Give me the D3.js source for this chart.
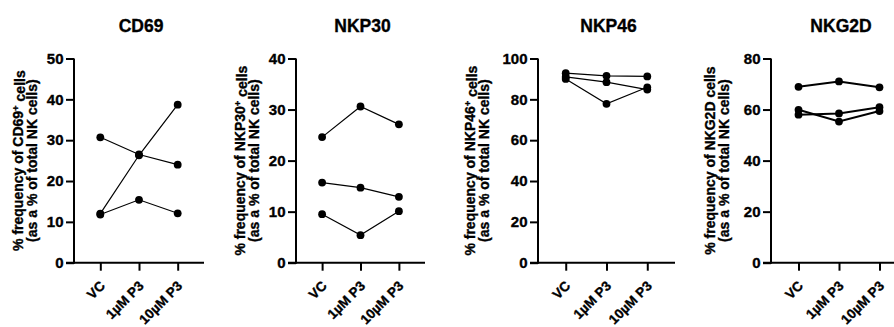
<!DOCTYPE html>
<html>
<head>
<meta charset="utf-8">
<script src="https://cdn.jsdelivr.net/npm/d3@7"></script>
<style>
  html, body { margin: 0; padding: 0; background: #fff; }
  svg { display: block; }
  text { font-family: "Liberation Sans", Arial, sans-serif; font-weight: bold; fill: #000;
         stroke: #000; stroke-width: 0.35px; }
</style>
</head>
<body>
<svg id="chart" width="894" height="327"></svg>
<script>
// Treatment groups on the x axis
const categories = ["VC", "1µM P3", "10µM P3"];

// Each inner array is one donor followed across the three treatments
const cd69 = [[30.7, 26.5, 24.0], [12.0, 26.3, 38.7], [11.8, 15.4, 12.1]];
const nkp30 = [[24.6, 30.6, 27.1], [15.7, 14.7, 12.9], [9.5, 5.4, 10.1]];
const nkp46 = [[92.8, 91.5, 91.2], [91.0, 88.4, 84.8], [90.0, 77.8, 85.9]];
const nkg2d = [[68.9, 71.0, 68.7], [59.9, 55.3, 59.4], [58.0, 58.5, 60.9]];

// Y tick values per panel
const cd69Ticks = [0, 10, 20, 30, 40, 50];
const nkp30Ticks = [0, 10, 20, 30, 40];
const nkp46Ticks = [0, 20, 40, 60, 80, 100];
const nkg2dTicks = [0, 20, 40, 60, 80];

const panels = [
  { title: "CD69", marker: "CD69", sup: "+", data: cd69, ticks: cd69Ticks,
    left: 74, width: 130, axisEnd: 130, labelX: -56, lineW: 1.2 },
  { title: "NKP30", marker: "NKP30", sup: "+", data: nkp30, ticks: nkp30Ticks,
    left: 296, width: 129, axisEnd: 129, labelX: -56, lineW: 1.2 },
  { title: "NKP46", marker: "NKP46", sup: "+", data: nkp46, ticks: nkp46Ticks,
    left: 538, width: 137, axisEnd: 137, labelX: -68, lineW: 1.2 },
  { title: "NKG2D", marker: "NKG2D", sup: "", data: nkg2d, ticks: nkg2dTicks,
    left: 771, width: 136, axisEnd: 130, labelX: -61, lineW: 2 }
];

const yTop = 58.5, yBottom = 262.7;
const svg = d3.select("#chart");

panels.forEach(p => {
  const g = svg.append("g").attr("transform", `translate(${p.left},0)`);

  const x = d3.scalePoint().domain(categories).range([0, p.width]).padding(0.68);
  const y = d3.scaleLinear().domain([0, d3.max(p.ticks)]).range([yBottom, yTop]);

  // y axis
  const ya = g.append("g")
    .call(d3.axisLeft(y).tickValues(p.ticks).tickSize(8).tickPadding(2.5).tickFormat(d3.format("d")));
  ya.selectAll("path, line").attr("stroke", "#000").attr("stroke-width", 2);
  ya.select(".domain").attr("d", `M0,${yTop}V${yBottom + 1}`);
  ya.selectAll("text").attr("font-size", 15).attr("font-family", null);

  // x axis
  const xa = g.append("g").attr("transform", `translate(0,${yBottom})`)
    .call(d3.axisBottom(x).tickSize(8));
  xa.selectAll("path, line").attr("stroke", "#000").attr("stroke-width", 2);
  xa.select(".domain").attr("d", `M-8,0H${p.axisEnd}`);
  xa.selectAll("text")
    .attr("font-size", 13.5).attr("font-family", null)
    .attr("text-anchor", "end")
    .attr("x", 0).attr("y", 0).attr("dy", null)
    .attr("transform", "translate(5,24) rotate(-45)");

  // paired lines
  const line = d3.line().x((d, i) => x(categories[i])).y(d => y(d));
  g.selectAll(".pair").data(p.data).join("path")
    .attr("class", "pair")
    .attr("d", line)
    .attr("fill", "none")
    .attr("stroke", "#000")
    .attr("stroke-width", p.lineW);

  // points
  p.data.forEach(series => {
    g.selectAll(null).data(series).join("circle")
      .attr("cx", (d, i) => x(categories[i]))
      .attr("cy", d => y(d))
      .attr("r", 3.9)
      .attr("fill", "#000");
  });

  // title
  g.append("text")
    .attr("x", p.width / 2 + 2)
    .attr("y", 32)
    .attr("text-anchor", "middle")
    .attr("font-size", 17.5)
    .text(p.title);

  // y label, two lines
  const cy = (yTop + yBottom) / 2;
  const l1 = g.append("text")
    .attr("transform", `translate(${p.labelX},${cy}) rotate(-90)`)
    .attr("text-anchor", "middle")
    .attr("dy", "0.35em")
    .attr("font-size", 14);
  l1.append("tspan").text(`% frequency of ${p.marker}`);
  if (p.sup) l1.append("tspan").attr("dy", "-0.45em").attr("font-size", 9.5).text(p.sup);
  l1.append("tspan").attr("dy", p.sup ? "0.45em" : null).text(" cells");

  g.append("text")
    .attr("transform", `translate(${p.labelX + 14},${cy}) rotate(-90)`)
    .attr("text-anchor", "middle")
    .attr("dy", "0.35em")
    .attr("font-size", 14)
    .text("(as a % of total NK cells)");
});
</script>
</body>
</html>
